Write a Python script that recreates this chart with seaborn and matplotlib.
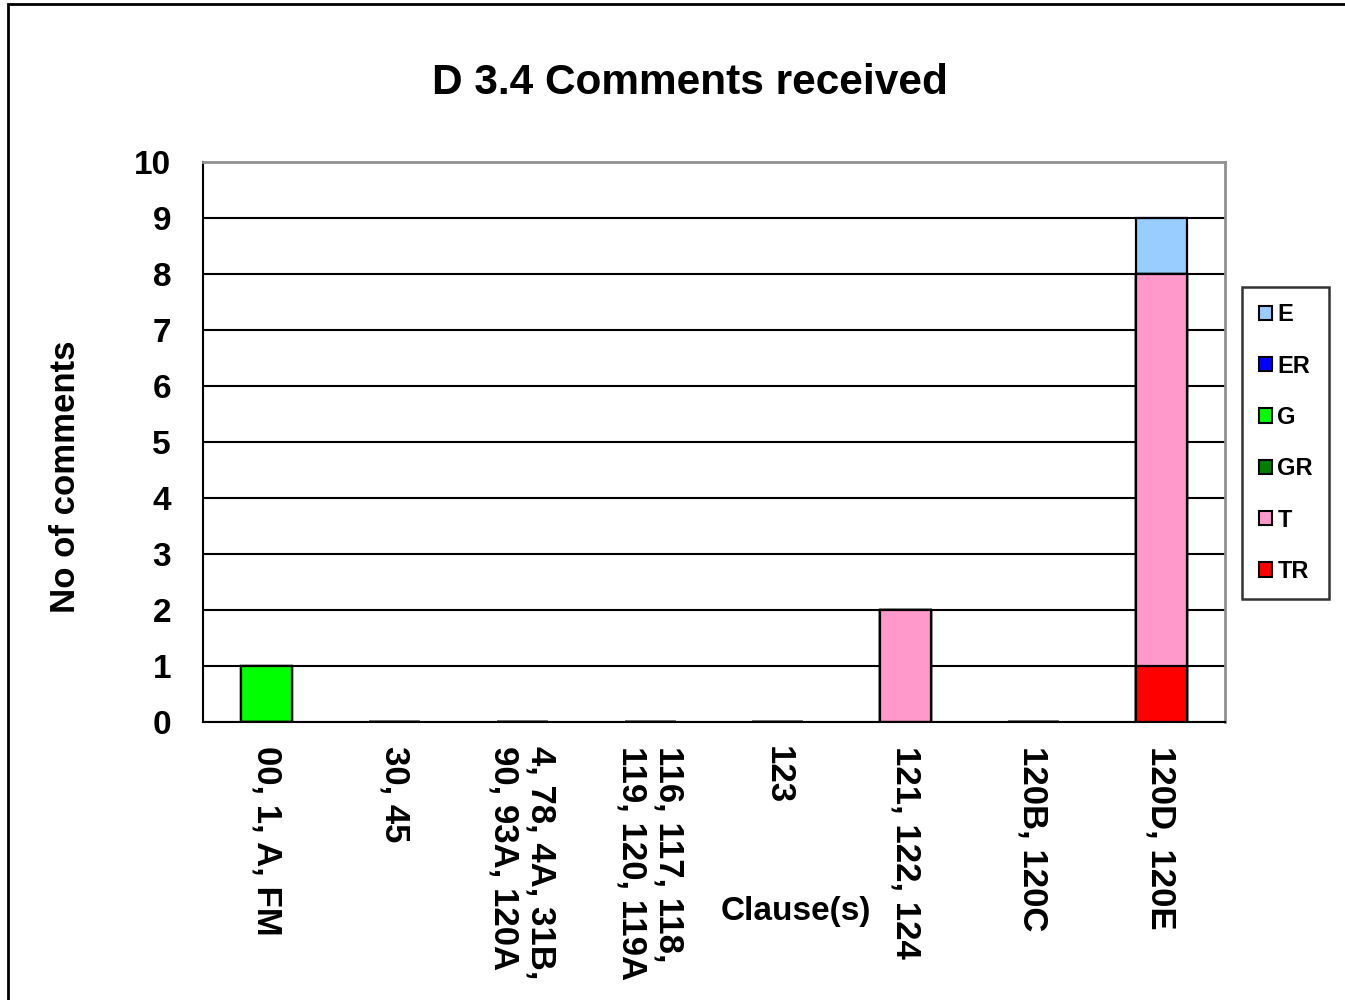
import numpy as np
import pandas as pd
import matplotlib
matplotlib.use("Agg")
import matplotlib.pyplot as plt
from matplotlib.patches import Patch, Rectangle
import seaborn as sns

################ DATA ################
clauses = [
    "00, 1, A, FM",
    "30, 45",
    "4, 78, 4A, 31B,\n90, 93A, 120A",
    "116, 117, 118,\n119, 120, 119A",
    "123",
    "121, 122, 124",
    "120B, 120C",
    "120D, 120E",
]
series_names = ["E", "ER", "G", "GR", "T", "TR"]
e_vals = [0, 0, 0, 0, 0, 0, 0, 1]
er_vals = [0, 0, 0, 0, 0, 0, 0, 0]
g_vals = [1, 0, 0, 0, 0, 0, 0, 0]
gr_vals = [0, 0, 0, 0, 0, 0, 0, 0]
t_vals = [0, 0, 0, 0, 0, 2, 0, 7]
tr_vals = [0, 0, 0, 0, 0, 0, 0, 1]
series_colors = ["#99CCFF", "#0000FF", "#00FF00", "#008000", "#FF99CC", "#FF0000"]

df = pd.DataFrame({"clause": clauses, "E": e_vals, "ER": er_vals, "G": g_vals,
                   "GR": gr_vals, "T": t_vals, "TR": tr_vals})

################ STYLE ################
sns.set_style("white")
plt.rcParams["font.family"] = ["Liberation Sans", "DejaVu Sans"]
plt.rcParams["font.weight"] = "bold"
plt.rcParams["text.color"] = "black"
plt.rcParams["axes.labelcolor"] = "black"
plt.rcParams["xtick.color"] = "black"
plt.rcParams["ytick.color"] = "black"

fig = plt.figure(figsize=(13.45, 10), dpi=100)
ax = fig.add_axes([0.1509, 0.278, 0.7599, 0.56])

# stacking order bottom -> top: TR, T, GR, G, ER, E
stack_order = series_names[::-1]
cum = df[stack_order].cumsum(axis=1)

# draw tallest cumulative first so lower segments overlay it
for name in series_names:
    col = series_colors[series_names.index(name)]
    sns.barplot(x=df["clause"], y=cum[name], color=col, width=0.4,
                edgecolor="black", linewidth=1.6, saturation=1, ax=ax, zorder=3)

ax.set_ylim(0, 10)
ax.set_xlim(-0.5, 7.5)
ax.set_yticks(range(0, 11))
ax.yaxis.grid(True, color="black", linewidth=1.5)
ax.set_axisbelow(True)

for side in ["left", "bottom"]:
    ax.spines[side].set_color("black")
    ax.spines[side].set_linewidth(1.5)
for side in ["top", "right"]:
    ax.spines[side].set_color("#909090")
    ax.spines[side].set_linewidth(2)

ax.set_xticks(np.arange(-0.5, 8, 1), minor=True)
ax.tick_params(axis="x", which="major", length=0, pad=17)
ax.tick_params(axis="x", which="minor", length=7, width=1.5, color="black", direction="out")
ax.tick_params(axis="y", length=5, width=1.5, color="black", direction="out", pad=18,
               labelsize=24)
for lbl in ax.get_yticklabels():
    lbl.set_fontweight("bold")

ax.set_xticks(range(len(clauses)))
ax.set_xticklabels(clauses, rotation=270, ha="center", va="top",
                   multialignment="left", fontsize=25, fontweight="bold",
                   linespacing=1.15)

ax.set_xlabel("Clause(s)", fontsize=24, fontweight="bold")
ax.xaxis.set_label_coords(0.58, -0.31)
ax.set_ylabel("No of comments", fontsize=25, fontweight="bold")
ax.yaxis.set_label_coords(-0.118, 0.4375)

fig.text(690 / 1345, 1 - 83 / 1000, "D 3.4 Comments received", fontsize=30.5,
         fontweight="bold", ha="center", va="center")

handles = [Patch(facecolor=c, edgecolor="black", linewidth=1.5)
           for c in series_colors]
leg = ax.legend(handles, series_names, loc="center left", bbox_to_anchor=(1.0166, 0.498),
                borderaxespad=0, frameon=True, fancybox=False, edgecolor="black",
                fontsize=17, handlelength=0.55, handleheight=0.55, handletextpad=0.25,
                labelspacing=1.2, borderpad=0.7)
leg.get_frame().set_linewidth(1.8)
for t in leg.get_texts():
    t.set_fontweight("bold")

# outer chart border
fig.patches.append(Rectangle((8 / 1345, -0.01), 1.0, 1 - 4 / 1000 + 0.01,
                             transform=fig.transFigure, fill=False,
                             edgecolor="black", linewidth=2))

fig.savefig("out.png", dpi=100)
